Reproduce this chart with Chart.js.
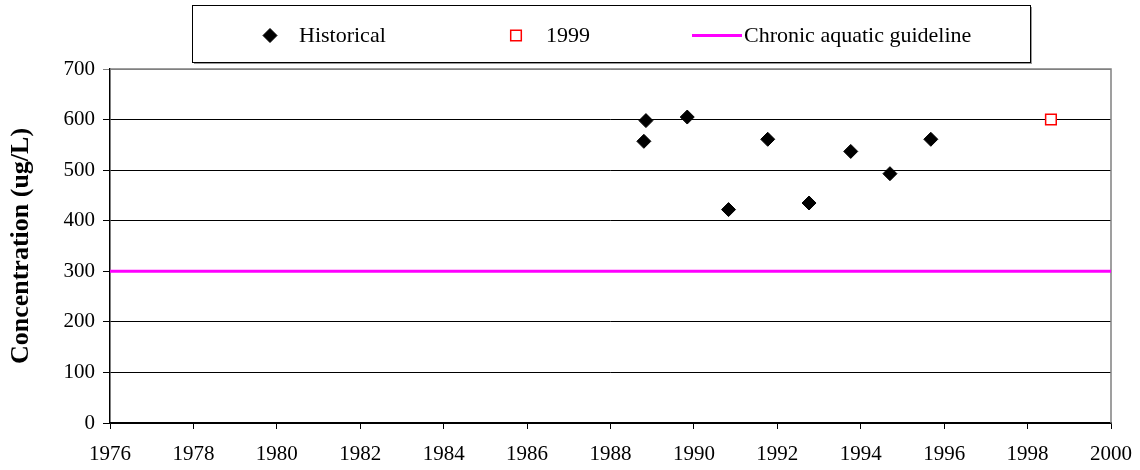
<!DOCTYPE html>
<html>
<head>
<meta charset="utf-8">
<script src="https://cdn.jsdelivr.net/npm/chart.js@4"></script>
<style>
  html, body { margin: 0; padding: 0; background: #fff; }
  #wrap { width: 1140px; height: 470px; }
</style>
</head>
<body>
<div id="wrap"><canvas id="chart" width="1140" height="470"></canvas></div>
<script>
// Historical sampling results (decimal year, concentration in ug/L)
const historicalYears  = [1988.80, 1988.85, 1989.84, 1990.83, 1991.77, 1992.76, 1993.76, 1994.70, 1995.68];
const historicalValues = [557, 598, 605, 422, 561, 435, 537, 493, 561];

// 1999 sample
const sampleYears  = [1998.56];
const sampleValues = [600];

// Chronic aquatic guideline, flat across the axis range
const guidelineYears  = [1976, 2000];
const guidelineValues = [300, 300];

// Axis ranges and tick steps
const xRange = [1976, 2000];
const xStep = 2;
const yRange = [0, 700];
const yStep = 100;

const seriesLabels = ['Historical', '1999', 'Chronic aquatic guideline'];

const toPoints = (xs, ys) => xs.map((x, i) => ({ x: x, y: ys[i] }));

const SERIF = "'Liberation Serif', 'Times New Roman', serif";

// Boxed legend laid out in one row above the plot
const boxLegend = {
  id: 'boxLegend',
  afterDraw(chart, args, opts) {
    const ctx = chart.ctx;
    const b = opts.box;
    ctx.save();
    // soft shadow under the frame
    ctx.fillStyle = '#9a9a9a';
    ctx.fillRect(b.x + 2, b.y + b.h, b.w, 2);
    ctx.fillRect(b.x + b.w, b.y + 2, 2, b.h);
    ctx.fillStyle = '#fff';
    ctx.fillRect(b.x, b.y, b.w, b.h);
    ctx.strokeStyle = '#000';
    ctx.lineWidth = 1;
    ctx.strokeRect(b.x + 0.5, b.y + 0.5, b.w, b.h);

    const cy = b.y + b.h / 2 + 2;
    chart.data.datasets.forEach((ds, i) => {
      const it = opts.items[i];
      if (ds.showLine) {
        ctx.strokeStyle = ds.borderColor;
        ctx.lineWidth = ds.borderWidth;
        ctx.beginPath();
        ctx.moveTo(it.mx, cy);
        ctx.lineTo(it.mx + it.len, cy);
        ctx.stroke();
      } else {
        ctx.fillStyle = ds.pointBackgroundColor;
        ctx.strokeStyle = ds.pointBorderColor;
        ctx.lineWidth = ds.pointBorderWidth;
        Chart.helpers.drawPoint(ctx, {
          pointStyle: ds.pointStyle,
          radius: ds.pointRadius,
          borderWidth: ds.pointBorderWidth
        }, it.mx, cy);
      }
      ctx.fillStyle = '#000';
      ctx.font = opts.font;
      ctx.textAlign = 'left';
      ctx.textBaseline = 'middle';
      ctx.fillText(ds.label, it.tx, cy + 1);
    });
    ctx.restore();
  }
};

// Gray frame on the top and right sides of the plot
const plotFrame = {
  id: 'plotFrame',
  beforeDatasetsDraw(chart) {
    const { ctx, chartArea: a } = chart;
    ctx.save();
    ctx.strokeStyle = '#808080';
    ctx.lineWidth = 1.5;
    ctx.beginPath();
    ctx.moveTo(a.left, a.top);
    ctx.lineTo(a.right, a.top);
    ctx.lineTo(a.right, a.bottom);
    ctx.stroke();
    ctx.restore();
  }
};

new Chart(document.getElementById('chart'), {
  type: 'scatter',
  data: {
    datasets: [
      {
        label: seriesLabels[0],
        data: toPoints(historicalYears, historicalValues),
        pointStyle: 'rectRot',
        pointRadius: 7,
        pointBorderWidth: 1,
        pointBackgroundColor: '#000',
        pointBorderColor: '#000',
        showLine: false,
        order: 1
      },
      {
        label: seriesLabels[1],
        data: toPoints(sampleYears, sampleValues),
        pointStyle: 'rect',
        pointRadius: 7.5,
        pointBorderWidth: 1.5,
        pointBackgroundColor: '#fff',
        pointBorderColor: '#ff0000',
        showLine: false,
        order: 1
      },
      {
        label: seriesLabels[2],
        data: toPoints(guidelineYears, guidelineValues),
        showLine: true,
        borderColor: '#ff00ff',
        borderWidth: 3,
        pointRadius: 0,
        order: 2
      }
    ]
  },
  options: {
    responsive: false,
    animation: false,
    layout: { padding: { top: 69, right: 29, left: 0, bottom: 0 } },
    plugins: {
      legend: { display: false },
      tooltip: { enabled: false },
      boxLegend: {
        box: { x: 192, y: 5, w: 838, h: 57 },
        font: '22px ' + SERIF,
        items: [
          { mx: 270, tx: 299 },
          { mx: 516, tx: 546 },
          { mx: 692, len: 50, tx: 744 }
        ]
      }
    },
    scales: {
      x: {
        type: 'linear',
        min: xRange[0],
        max: xRange[1],
        afterFit(scale) {
          scale.height = 47;
          scale.paddingLeft = 0;
          scale.paddingRight = 0;
        },
        ticks: {
          stepSize: xStep,
          color: '#000',
          padding: 13,
          maxRotation: 0,
          font: { family: SERIF, size: 21 },
          callback: v => String(v)
        },
        grid: {
          drawOnChartArea: false,
          drawTicks: true,
          tickLength: 6,
          color: '#000',
          lineWidth: 1
        },
        border: { display: true, color: '#000', width: 1.5 }
      },
      y: {
        min: yRange[0],
        max: yRange[1],
        afterFit(scale) {
          scale.width = 110;
          scale.paddingTop = 0;
          scale.paddingBottom = 0;
        },
        ticks: {
          stepSize: yStep,
          color: '#000',
          padding: 8,
          font: { family: SERIF, size: 21 }
        },
        grid: {
          drawOnChartArea: true,
          drawTicks: true,
          tickLength: 7,
          color: ctx => (ctx.tick && ctx.tick.value === 700 ? '#808080' : '#000'),
          lineWidth: 1
        },
        border: { display: true, color: '#000', width: 1.5 },
        title: {
          display: true,
          text: 'Concentration (ug/L)',
          color: '#000',
          font: { family: SERIF, size: 26, weight: 'bold' },
          padding: { top: 6, bottom: 0 }
        }
      }
    }
  },
  plugins: [plotFrame, boxLegend]
});
</script>
</body>
</html>
